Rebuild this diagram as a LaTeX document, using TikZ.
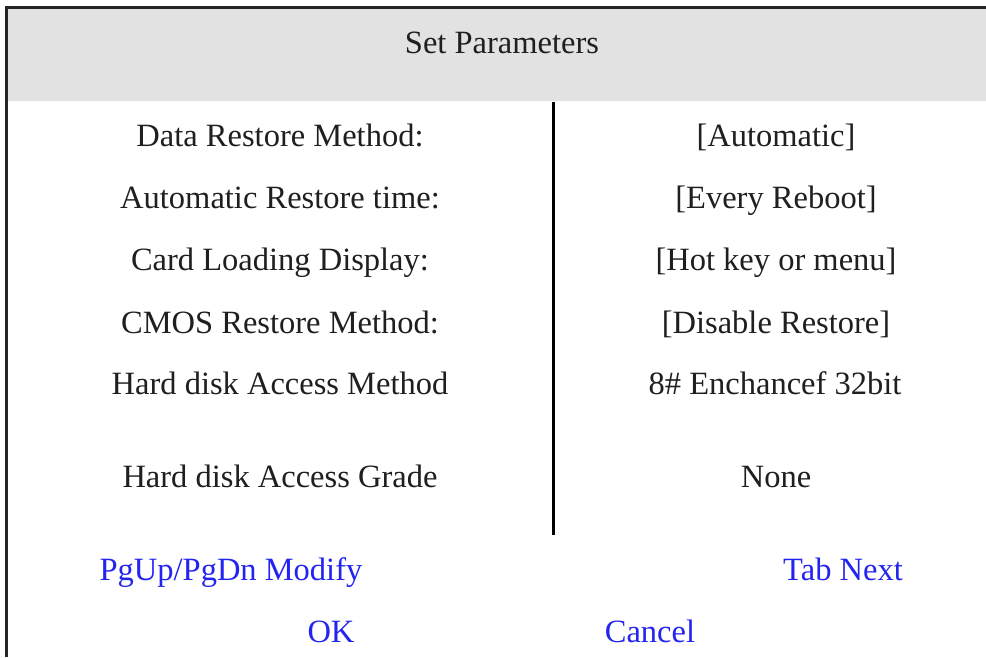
\documentclass[tikz,border=0pt]{standalone}
\usepackage{fontspec}
\setmainfont{Liberation Serif}
\definecolor{hdrgray}{HTML}{E1E2E1}
\definecolor{keyblue}{HTML}{2424F0}
\begin{document}
\begin{tikzpicture}[x=1pt,y=-1pt,
  lbl/.style={font=\fontsize{32.5}{38}\selectfont, text=black!88, inner sep=0pt, anchor=base},
  key/.style={font=\fontsize{32.5}{38}\selectfont, text=keyblue, inner sep=0pt, anchor=base},
  frameline/.style={line width=2.2pt, black!85}]
\useasboundingbox (0,0) rectangle (986,657);
\fill[white] (0,0) rectangle (986,657);
% header
\fill[hdrgray] (7.5,8.5) rectangle (986,101);
\draw[frameline] (6.5,657) -- (6.5,7.5) -- (986,7.5);
% divider
\coordinate (dtop) at (553,102);
\coordinate (dbot) at (553,535);
\draw[line width=3pt, black] (dtop) -- (dbot);
% title
\node[lbl] (title) at (502,53) {Set Parameters};
% left column
\node[lbl] (l1) at (280,146) {Data Restore Method:};
\node[lbl] (l2) at (280,208) {Automatic Restore time:};
\node[lbl] (l3) at (280,270) {Card Loading Display:};
\node[lbl] (l4) at (280,333) {CMOS Restore Method:};
\node[lbl] (l5) at (280,394) {Hard disk Access Method};
\node[lbl] (l6) at (280,487) {Hard disk Access Grade};
% right column
\node[lbl] (r1) at (776,146) {[Automatic]};
\node[lbl] (r2) at (776,208) {[Every Reboot]};
\node[lbl] (r3) at (776,270) {[Hot key or menu]};
\node[lbl] (r4) at (776,333) {[Disable Restore]};
\node[lbl] (r5) at (775,394) {8\# Enchancef 32bit};
\node[lbl] (r6) at (776,487) {None};
% keys
\node[key] (k1) at (231,580) {PgUp/PgDn Modify};
\node[key] (k2) at (843,580) {Tab Next};
\node[key] (k3) at (331,642) {OK};
\node[key] (k4) at (650,642) {Cancel};
\end{tikzpicture}
\end{document}
